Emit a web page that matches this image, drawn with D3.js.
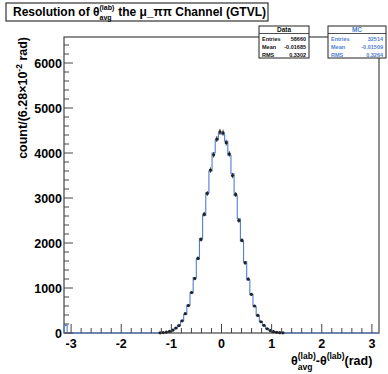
<!DOCTYPE html>
<html><head><meta charset="utf-8">
<script src="https://cdn.jsdelivr.net/npm/d3@7"></script>
<style>body{margin:0;background:#fff}svg{display:block}text{font-family:"Liberation Sans",Arial,sans-serif;font-weight:bold}</style>
</head><body><svg id="c" width="388" height="374"></svg>
<script>
// ---- data ----
const xMin = -3.1416, xMax = 3.1416, nBins = 100;
// MC histogram (scaled), bins 0..99
const mcCounts = [
170,0,0,0,0,0,0,0,0,0, 0,0,0,0,0,0,0,0,0,0, 0,0,0,0,0,0,0,0,0,0,
5,10,18,34,60,104,170,272,418,620, 890,1230,1640,2100,2610,3120,3600,4000,4290,4440,
4420,4260,3950,3540,3050,2540,2040,1580,1180,850, 590,395,255,160,97,56,31,17,9,4,
0,0,0,0,0,0,0,0,0,0, 0,0,0,0,0,0,0,0,0,0, 0,0,0,0,0,0,0,0,0,0];
// Data points, bins 0..99
const dataCounts = [
0,0,0,0,0,0,0,0,0,0, 0,0,0,0,0,0,0,0,0,0, 0,0,0,0,0,0,0,0,0,0,
5,9,20,35,62,110,165,270,430,610, 900,1210,1660,2080,2640,3100,3620,3960,4310,4470,
4450,4230,3980,3500,3080,2500,2060,1560,1200,860, 600,390,250,170,95,55,30,15,8,4,
0,0,0,0,0,0,0,0,0,0, 0,0,0,0,0,0,0,0,0,0, 0,0,0,0,0,0,0,0,0,0];
const xTicks = [-3,-2,-1,0,1,2,3];
const yTicks = [0,1000,2000,3000,4000,5000,6000];
const statsData = [["Entries","58660"],["Mean","-0.01685"],["RMS","0.3302"]];
const statsMC = [["Entries","32514"],["Mean","-0.01509"],["RMS","0.3264"]];

// ---- layout ----
const svg = d3.select("#c");
const L = 64, R = 379, T = 37, B = 333;
const x = d3.scaleLinear().domain([xMin, xMax]).range([L, R]);
const y = d3.scaleLinear().domain([0, 6578]).range([B, T]);
const bw = (xMax - xMin) / nBins;
const blue = "#4f7fcf";

// frame
svg.append("rect").attr("x", L).attr("y", T).attr("width", R - L).attr("height", B - T)
  .attr("fill", "none").attr("stroke", "#444").attr("stroke-width", 1.2);

// MC step histogram
const pts = [];
mcCounts.forEach((v, i) => {
  const x0 = xMin + i * bw, x1 = x0 + bw;
  pts.push([x(x0), y(v)], [x(x1), y(v)]);
});
pts.unshift([x(xMin), y(0)]); pts.push([x(xMax), y(0)]);
svg.append("path").attr("d", d3.line()(pts)).attr("fill", "none")
  .attr("stroke", blue).attr("stroke-width", 1.1);

// Data points
const dp = dataCounts.map((v, i) => ({xc: xMin + (i + 0.5) * bw, v})).filter(d => d.v > 0);
svg.append("g").selectAll("line").data(dp).join("line")
  .attr("x1", d => x(d.xc)).attr("x2", d => x(d.xc))
  .attr("y1", d => y(d.v + Math.sqrt(d.v))).attr("y2", d => y(d.v - Math.sqrt(d.v)))
  .attr("stroke", "#222").attr("stroke-width", 0.8);
svg.append("g").selectAll("circle").data(dp).join("circle")
  .attr("cx", d => x(d.xc)).attr("cy", d => y(d.v)).attr("r", 1.6).attr("fill", "#222");

// axes ticks (inside)
const ax = svg.append("g").attr("stroke", "#444").attr("stroke-width", 1);
d3.range(-3.0, 3.11, 0.2).forEach(t => {
  const major = Math.abs(t - Math.round(t)) < 1e-6;
  ax.append("line").attr("x1", x(t)).attr("x2", x(t)).attr("y1", B).attr("y2", B - (major ? 9 : 5));
});
d3.range(0, 6501, 200).forEach(t => {
  const major = t % 1000 === 0;
  ax.append("line").attr("x1", L).attr("x2", L + (major ? 9 : 5)).attr("y1", y(t)).attr("y2", y(t));
});

// tick labels
svg.append("g").selectAll("text").data(xTicks).join("text")
  .attr("x", d => x(d)).attr("y", 348).attr("text-anchor", "middle")
  .attr("font-size", 12.5).text(d => d);
svg.append("g").selectAll("text").data(yTicks).join("text")
  .attr("x", L - 2).attr("y", d => y(d) + 4.5).attr("text-anchor", "end")
  .attr("font-size", 12.5).text(d => d);

// y axis title
const yt = svg.append("text").attr("transform", "translate(27,37) rotate(-90)")
  .attr("text-anchor", "end").attr("font-size", 12.5);
yt.append("tspan").text("count/(6.28\u00d710");
yt.append("tspan").attr("dy", -5).attr("font-size", 8.5).text("-2");
yt.append("tspan").attr("dy", 5).text(" rad)");

// x axis title
const xt = svg.append("g");
const x0t = 291;
const th1 = xt.append("text").attr("x", x0t).attr("y", 365).attr("font-size", 12.5).text("\u03b8");
let cx = x0t + th1.node().getComputedTextLength();
const s1 = xt.append("text").attr("x", cx).attr("y", 359).attr("font-size", 8.5).text("(lab)");
xt.append("text").attr("x", cx).attr("y", 370).attr("font-size", 8.5).text("avg");
cx += s1.node().getComputedTextLength();
const m = xt.append("text").attr("x", cx).attr("y", 365).attr("font-size", 12.5).text("-\u03b8");
cx += m.node().getComputedTextLength();
const s2 = xt.append("text").attr("x", cx).attr("y", 359).attr("font-size", 8.5).text("(lab)");
cx += s2.node().getComputedTextLength();
xt.append("text").attr("x", cx).attr("y", 365).attr("font-size", 12.5).text(" (rad)");

// title box
svg.append("rect").attr("x", 6).attr("y", 3).attr("width", 262).attr("height", 18)
  .attr("fill", "#fff").attr("stroke", "#333").attr("stroke-width", 1.2);
const tg = svg.append("g");
let tx = 13;
const t1 = tg.append("text").attr("x", tx).attr("y", 16).attr("font-size", 12).text("Resolution of \u03b8");
tx += t1.node().getComputedTextLength();
const t2 = tg.append("text").attr("x", tx).attr("y", 10).attr("font-size", 7).text("(lab)");
tg.append("text").attr("x", tx).attr("y", 20).attr("font-size", 7).text("avg");
tx += t2.node().getComputedTextLength();
tg.append("text").attr("x", tx + 4).attr("y", 16).attr("font-size", 12).text("the \u03bc_\u03c0\u03c0 Channel (GTVL)");

// stats boxes
function statBox(x0, w, title, rows, col) {
  const g = svg.append("g");
  g.append("rect").attr("x", x0).attr("y", 26).attr("width", w).attr("height", 32)
    .attr("fill", "#fff").attr("stroke", "#222").attr("stroke-width", 1);
  g.append("line").attr("x1", x0).attr("x2", x0 + w).attr("y1", 33.5).attr("y2", 33.5)
    .attr("stroke", "#222").attr("stroke-width", 0.8);
  g.append("text").attr("x", x0 + w / 2).attr("y", 32).attr("text-anchor", "middle")
    .attr("font-size", 6.5).attr("fill", col).text(title);
  rows.forEach((r, i) => {
    g.append("text").attr("x", x0 + 3).attr("y", 41 + i * 8).attr("font-size", 5.5).attr("fill", col).text(r[0]);
    g.append("text").attr("x", x0 + w - 3).attr("y", 41 + i * 8).attr("text-anchor", "end")
      .attr("font-size", 5.5).attr("fill", col).text(r[1]);
  });
}
statBox(259, 50, "Data", statsData, "#111");
statBox(328, 58, "MC", statsMC, blue);
</script></body></html>
